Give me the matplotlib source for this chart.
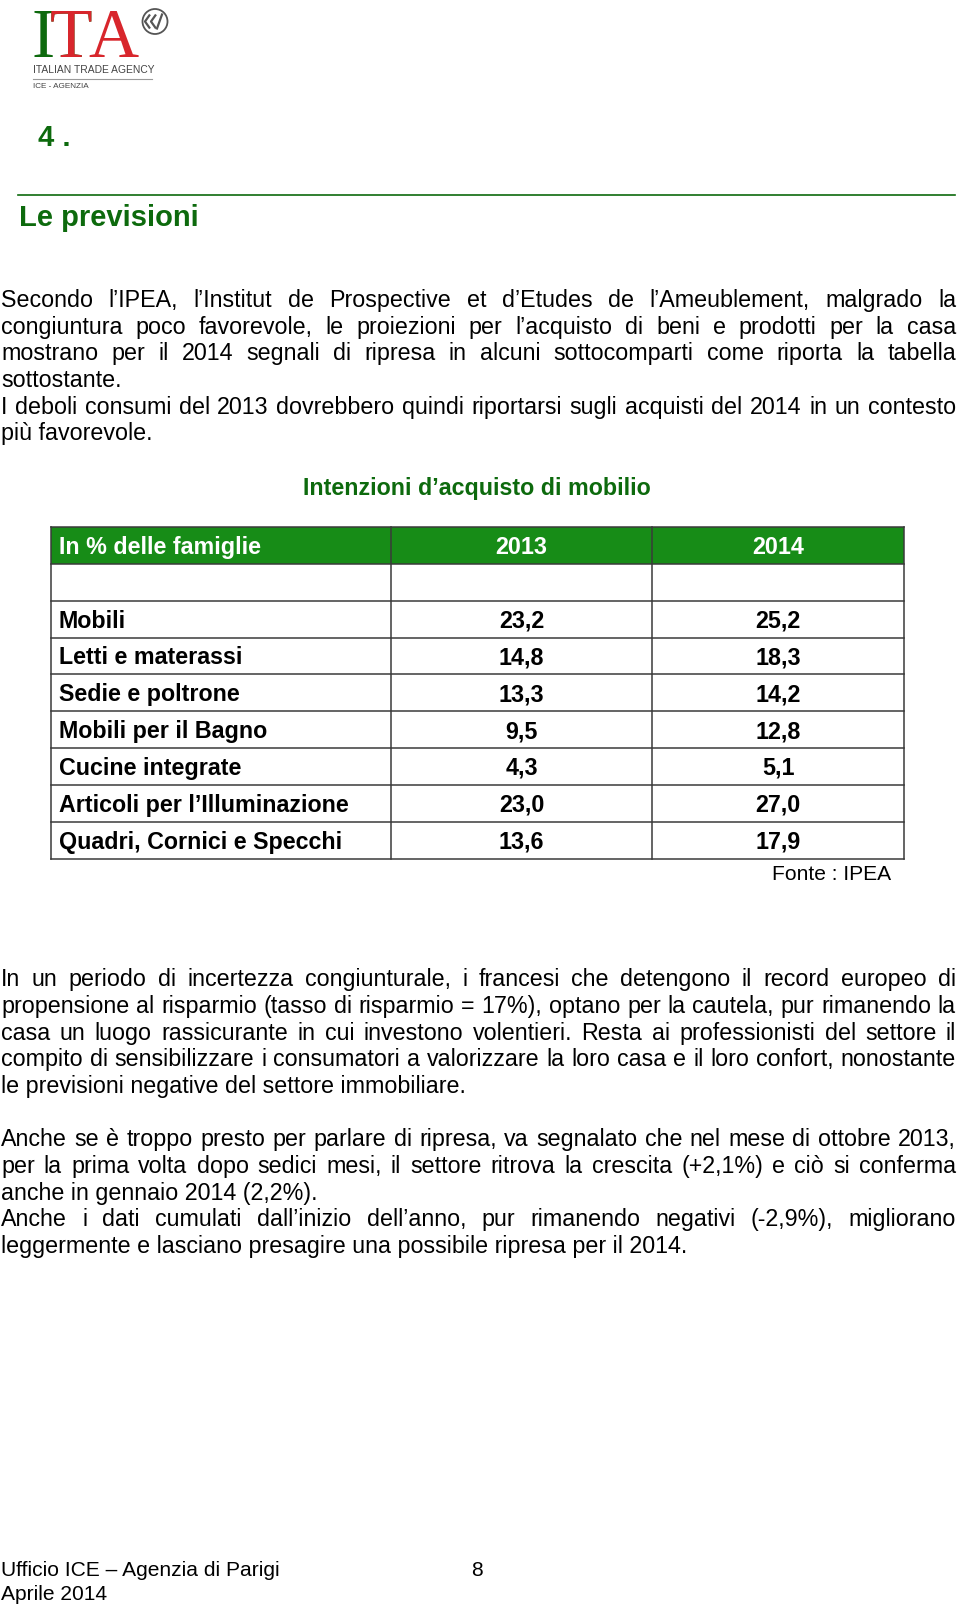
import matplotlib
matplotlib.use("Agg")
import matplotlib.pyplot as plt
from matplotlib.patches import Rectangle, Circle

W, H, DPI = 960, 1604, 100

# ---------------- data ----------------
section_num = "4 ."
section_title = "Le previsioni"
table_title = "Intenzioni d’acquisto di mobilio"
header = ["In % delle famiglie", "2013", "2014"]
categories = ["Mobili", "Letti e materassi", "Sedie e poltrone", "Mobili per il Bagno",
              "Cucine integrate", "Articoli per l’Illuminazione", "Quadri, Cornici e Specchi"]
v2013 = [23.2, 14.8, 13.3, 9.5, 4.3, 23.0, 13.6]
v2014 = [25.2, 18.3, 14.2, 12.8, 5.1, 27.0, 17.9]
source = "Fonte : IPEA"

para1 = [
    ["Secondo l’IPEA, l’Institut de Prospective et d’Etudes de l’Ameublement, malgrado la",
     "congiuntura poco favorevole, le proiezioni per l’acquisto di beni e prodotti per la casa",
     "mostrano per il 2014 segnali di ripresa in alcuni sottocomparti come riporta la tabella",
     "sottostante."],
    ["I deboli consumi del 2013 dovrebbero quindi riportarsi sugli acquisti del 2014 in un contesto",
     "più favorevole."],
]
para2 = [
    ["In un periodo di incertezza congiunturale, i francesi che detengono il record europeo di",
     "propensione al risparmio (tasso di risparmio = 17%), optano per la cautela, pur rimanendo la",
     "casa un luogo rassicurante in cui investono volentieri. Resta ai professionisti del settore il",
     "compito di sensibilizzare i consumatori a valorizzare la loro casa e il loro confort, nonostante",
     "le previsioni negative del settore immobiliare."],
]
para3 = [
    ["Anche se è troppo presto per parlare di ripresa, va segnalato che nel mese di ottobre 2013,",
     "per la prima volta dopo sedici mesi, il settore ritrova la crescita (+2,1%) e ciò si conferma",
     "anche in gennaio 2014 (2,2%)."],
    ["Anche i dati cumulati dall’inizio dell’anno, pur rimanendo negativi (-2,9%), migliorano",
     "leggermente e lasciano presagire una possibile ripresa per il 2014."],
]
footer_left = ["Ufficio ICE – Agenzia di Parigi", "Aprile 2014"]
footer_page = "8"

# ---------------- style ----------------
FONT = "Liberation Sans"
SERIF = "Liberation Serif"
GREEN_DARK = "#0d6a0d"
GREEN_FILL = "#178c17"
RED = "#d8262c"
BODY = 16.75
HEAD = 21.0
SMALL = 15.1

plt.rcParams["font.family"] = [FONT, "DejaVu Sans"]

fig = plt.figure(figsize=(W / DPI, H / DPI), dpi=DPI)
ax = fig.add_axes([0, 0, 1, 1])
ax.set_xlim(0, W)
ax.set_ylim(H, 0)
ax.axis("off")
renderer = fig.canvas.get_renderer()


def text_width(s, **kw):
    t = ax.text(0, 0, s, **kw)
    w = t.get_window_extent(renderer=renderer).width
    t.remove()
    return w


def draw_paragraph(blocks, y0, step, x0=1.0, x1=956.0, **kw):
    y = y0
    for block in blocks:
        for i, line in enumerate(block):
            if i == len(block) - 1:
                ax.text(x0, y, line, ha="left", va="baseline", **kw)
            else:
                words = line.split(" ")
                widths = [text_width(w, **kw) for w in words]
                gap = (x1 - x0 - sum(widths)) / (len(words) - 1)
                x = x0
                for w, wd in zip(words, widths):
                    ax.text(x, y, w, ha="left", va="baseline", **kw)
                    x += wd + gap
            y += step


# ---------------- logo ----------------
logo_letters = [("I", 43.5, GREEN_DARK), ("T", 71, GREEN_DARK), ("A", 113.5, RED)]
for ch, cx, col in logo_letters:
    t = ax.text(cx, 57.0, ch, ha="center", va="baseline", family=SERIF,
                fontsize=50, color=col)
    if ch == "T":
        t2 = ax.text(cx, 57.0, ch, ha="center", va="baseline", family=SERIF,
                     fontsize=50, color=RED)
        clip = Rectangle((cx + 2, 0), 40, 70, transform=ax.transData)
        t2.set_clip_path(clip)
circ = Circle((155, 21.5), 12.5, fill=False, ec="#555555", lw=1.3)
ax.add_patch(circ)
for dx in (0, 6):
    ax.plot([150 + dx, 145 + dx, 150 + dx], [14.5, 21.5, 28.5], color="#555555", lw=1.6,
            solid_capstyle="butt")
ax.plot([162, 157], [14.5, 28.5], color="#555555", lw=1.6)
ax.text(33, 73, "ITALIAN TRADE AGENCY", ha="left", va="baseline", fontsize=7.4,
        color="#444444")
ax.plot([33, 152], [78.5, 78.5], color="#9a9a9a", lw=0.8)
ax.text(33, 88, "ICE - AGENZIA", ha="left", va="baseline", fontsize=5.9, color="#444444")

# ---------------- headings ----------------
ax.text(38, 146.5, section_num, ha="left", va="baseline", fontsize=HEAD,
        fontweight="bold", color=GREEN_DARK)
ax.plot([18, 955], [194.5, 194.5], color=GREEN_DARK, lw=1.2)
ax.text(19, 226.5, section_title, ha="left", va="baseline", fontsize=HEAD,
        fontweight="bold", color=GREEN_DARK)

# ---------------- paragraphs ----------------
draw_paragraph(para1, 307, 26.65, fontsize=BODY, color="black")

# ---------------- table ----------------
ax.text(477, 494.5, table_title, ha="center", va="baseline", fontsize=BODY,
        fontweight="bold", color=GREEN_DARK)

col_x = [51, 391, 652, 904]
top = 527.0
row_h = 36.84
n_rows = 2 + len(categories)
bottom = top + n_rows * row_h
border = "#3a3a3a"

ax.add_patch(Rectangle((col_x[0], top), col_x[-1] - col_x[0], row_h,
                       facecolor=GREEN_FILL, edgecolor="none", zorder=1))
for r in range(n_rows + 1):
    y = top + r * row_h
    ax.plot([col_x[0], col_x[-1]], [y, y], color=border, lw=1.1, zorder=2)
for x in col_x:
    ax.plot([x, x], [top, bottom], color=border, lw=1.1, zorder=2)

cap = 8.4
# header
ax.text(col_x[0] + 8, top + row_h / 2 + cap, header[0], ha="left", va="baseline",
        fontsize=BODY, fontweight="bold", color="white", zorder=3)
for j in (1, 2):
    ax.text((col_x[j] + col_x[j + 1]) / 2, top + row_h / 2 + cap, header[j], ha="center",
            va="baseline", fontsize=BODY, fontweight="bold", color="white", zorder=3)


def fmt(v):
    return f"{v:.1f}".replace(".", ",")


for i, (cat, a, b) in enumerate(zip(categories, v2013, v2014)):
    yc = top + (i + 2) * row_h + row_h / 2 + cap
    ax.text(col_x[0] + 8, yc, cat, ha="left", va="baseline", fontsize=BODY,
            fontweight="bold", color="black", zorder=3)
    ax.text((col_x[1] + col_x[2]) / 2, yc, fmt(a), ha="center", va="baseline",
            fontsize=BODY, fontweight="bold", color="black", zorder=3)
    ax.text((col_x[2] + col_x[3]) / 2, yc, fmt(b), ha="center", va="baseline",
            fontsize=BODY, fontweight="bold", color="black", zorder=3)

ax.text(891, 879.5, source, ha="right", va="baseline", fontsize=SMALL, color="black")

draw_paragraph(para2, 986.3, 26.65, fontsize=BODY, color="black")
draw_paragraph(para3, 1146.3, 26.65, fontsize=BODY, color="black")

# ---------------- footer ----------------
ax.text(1, 1575.5, footer_left[0], ha="left", va="baseline", fontsize=SMALL, color="black")
ax.text(1, 1600.5, footer_left[1], ha="left", va="baseline", fontsize=SMALL, color="black")
ax.text(477, 1575.5, footer_page, ha="center", va="baseline", fontsize=SMALL, color="black")

fig.savefig("out.png", dpi=DPI, facecolor="white")
